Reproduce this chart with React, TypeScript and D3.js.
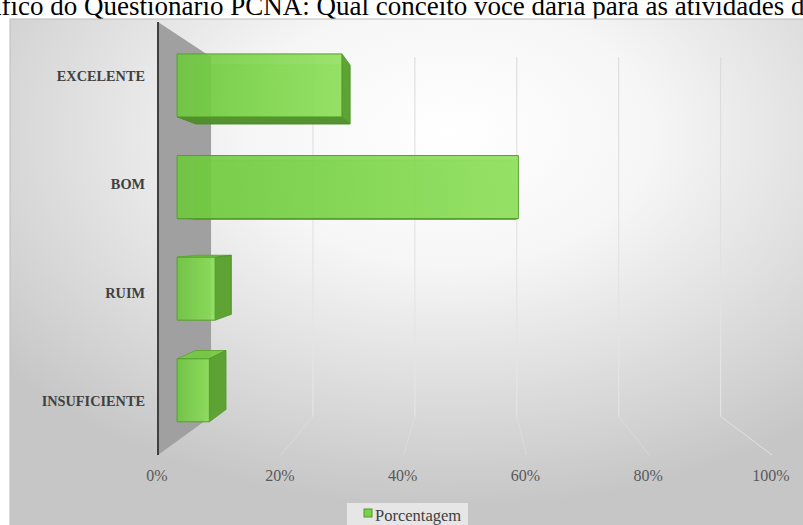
import React from 'react';
import * as d3 from 'd3';

const categories = ['EXCELENTE', 'BOM', 'RUIM', 'INSUFICIENTE'];
const values = [0.286, 0.592, 0.066, 0.056];
const tickValues = [0, 0.2, 0.4, 0.6, 0.8, 1.0];
const tickLabels = ['0%', '20%', '40%', '60%', '80%', '100%'];
const seriesName = 'Porcentagem';
const titleText = 'Gráfico do Questionário PCNA: Qual conceito você daria para as atividades do PCNA?';

const W = 803;
const H = 525;
const FONT = '"Liberation Serif", "Times New Roman", serif';

type Pt = [number, number];

export default function App() {
  const vp: Pt = [470, 228];
  const x = d3.scaleLinear().domain([0, 1]).range([158, 772]);
  const y = d3
    .scaleBand<string>()
    .domain(categories)
    .range([22, 455])
    .paddingInner(0.38)
    .paddingOuter(0.19);
  const depth = d3.scaleLinear().domain([0, 1]).range([1, 0.83]);
  const P = (X: number, Y: number, z: number): Pt => {
    const s = depth(z);
    return [vp[0] + s * (X - vp[0]), vp[1] + s * (Y - vp[1])];
  };
  const poly = (pts: Pt[]) => 'M' + pts.map((p) => p[0].toFixed(2) + ',' + p[1].toFixed(2)).join('L') + 'Z';
  const line = d3.line<Pt>();

  const yTop = 22;
  const yBot = 455;
  const zb0 = 0.36;
  const zb1 = 0.71;

  const wall = poly([P(x(0), yTop, 0), P(x(0), yTop, 1), P(x(0), yBot, 1), P(x(0), yBot, 0)]);

  const bars = categories.map((c, i) => {
    const X0 = x(0);
    const X1 = x(values[i]);
    const Y0 = y(c) as number;
    const Y1 = Y0 + y.bandwidth();
    const f00 = P(X0, Y0, zb0), f10 = P(X1, Y0, zb0), f11 = P(X1, Y1, zb0), f01 = P(X0, Y1, zb0);
    const b00 = P(X0, Y0, zb1), b10 = P(X1, Y0, zb1), b11 = P(X1, Y1, zb1), b01 = P(X0, Y1, zb1);
    const topVisible = Y0 > vp[1];
    const bottomVisible = Y1 < vp[1];
    const rightVisible = X1 < vp[0];
    return { c, f00, f10, f11, f01, b00, b10, b11, b01, topVisible, bottomVisible, rightVisible };
  });

  return (
    <svg
      width={W}
      height={H}
      viewBox={`0 0 ${W} ${H}`}
      style={{ position: 'absolute', left: 0, top: 0, background: '#ffffff' }}
    >
      <defs>
        <radialGradient id="bg" cx="0.55" cy="0.22" r="0.72" fx="0.55" fy="0.22">
          <stop offset="0" stopColor="#ffffff" />
          <stop offset="0.35" stopColor="#f6f6f6" />
          <stop offset="1" stopColor="#c6c6c6" />
        </radialGradient>
        <linearGradient id="front" x1="0" x2="1" y1="0" y2="0">
          <stop offset="0" stopColor="#6cc93b" />
          <stop offset="1" stopColor="#8ee05a" />
        </linearGradient>
        <linearGradient id="grid" gradientUnits="userSpaceOnUse" x1="0" y1="40" x2="0" y2="460">
          <stop offset="0" stopColor="#d8d8d8" />
          <stop offset="0.6" stopColor="#e2e2e2" />
          <stop offset="1" stopColor="#e9e9e9" />
        </linearGradient>
      </defs>

      <text x={-39} y={15} fontFamily={FONT} fontSize={27} fill="#000">
        {titleText}
      </text>

      <rect x={10} y={19} width={800} height={520} fill="url(#bg)" stroke="#bdbdbd" strokeWidth={1} />

      {/* back wall & floor gridlines */}
      {tickValues.slice(1).map((t) => (
        <g key={'g' + t}>
          <path d={line([P(x(t), yTop, 1), P(x(t), yBot, 1)]) || ''} stroke="url(#grid)" strokeWidth={1} fill="none" />
          <path
            d={line([P(x(t), yBot, 1), P(x(t), yBot, 0)]) || ''}
            stroke="#e4e4e4"
            strokeOpacity={t === 1 ? 0.9 : 0.45}
            strokeWidth={1}
            fill="none"
          />
        </g>
      ))}

      {/* side wall */}
      <path d={wall} fill="#a0a0a0" />
      <path d={line([[x(0), yTop], [x(0), yBot]]) || ''} stroke="#404040" strokeWidth={2} fill="none" />

      {/* bars */}
      {bars.map((b) => (
        <g key={b.c} strokeLinejoin="round">
          <path d={poly([b.b00, b.b10, b.b11, b.b01])} fill="#6cc63c" fillOpacity={0.35} stroke="#5aa52f" strokeOpacity={0.5} strokeWidth={0.8} />
          {b.bottomVisible && (
            <path d={poly([b.f01, b.f11, b.b11, b.b01])} fill="#4b8c26" fillOpacity={0.92} stroke="#4a8a25" strokeWidth={0.8} />
          )}
          {b.topVisible && (
            <path d={poly([b.f00, b.f10, b.b10, b.b00])} fill="#74c943" fillOpacity={0.9} stroke="#5aa52f" strokeWidth={0.8} />
          )}
          {b.rightVisible && (
            <path d={poly([b.f10, b.b10, b.b11, b.f11])} fill="#58a02d" fillOpacity={0.95} stroke="#4f9427" strokeWidth={0.8} />
          )}
          <path d={poly([b.f00, b.f10, b.f11, b.f01])} fill="url(#front)" fillOpacity={0.88} stroke="#55a02b" strokeWidth={1} />
        </g>
      ))}

      {/* category labels */}
      {categories.map((c) => (
        <text
          key={'l' + c}
          x={145}
          y={(y(c) as number) + y.bandwidth() / 2 + 5}
          textAnchor="end"
          fontFamily={FONT}
          fontSize={14.3}
          fontWeight="bold"
          fill="#404040"
        >
          {c}
        </text>
      ))}

      {/* value axis labels */}
      {tickValues.map((t, i) => (
        <text
          key={'t' + t}
          x={x(t) - 1}
          y={481}
          textAnchor="middle"
          fontFamily={FONT}
          fontSize={16}
          fill="#595959"
        >
          {tickLabels[i]}
        </text>
      ))}

      {/* legend */}
      <rect x={347} y={503} width={121} height={30} fill="#e6e6e6" />
      <rect x={364} y={509} width={8} height={8} fill="#7bd14b" stroke="#4f9a24" strokeWidth={1} />
      <text x={375} y={521} fontFamily={FONT} fontSize={16.5} fill="#404040">
        {seriesName}
      </text>
    </svg>
  );
}
